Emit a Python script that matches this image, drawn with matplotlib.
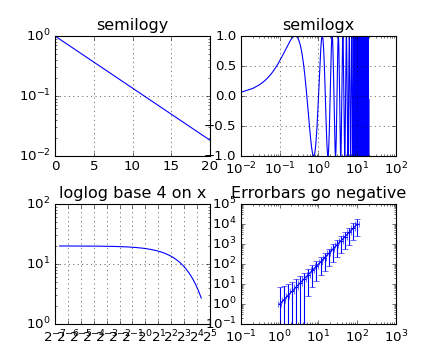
import numpy as np
import matplotlib
matplotlib.use("Agg")
import matplotlib.pyplot as plt

plt.style.use("classic")

# ---- data ----
# sample grid shared by the three curves
t_start, t_stop, t_step = 0.01, 20.0, 0.01
decay_semilogy = 5.0            # exp(-t/5)
sine_frequency = 1.0            # sin(2*pi*f*t)
loglog_amplitude = 20.0         # 20*exp(-t/10)
decay_loglog = 10.0

# errorbar points
err_x = [1.0, 1.27, 1.62, 2.07, 2.64, 3.36, 4.28, 5.46, 6.95, 8.86,
         11.3, 14.4, 18.3, 23.4, 29.8, 37.9, 48.3, 61.6, 78.5, 100.0]
err_y = [1.0, 1.62, 2.64, 4.28, 6.95, 11.3, 18.3, 29.8, 48.3, 78.5,
         127.0, 207.0, 336.0, 546.0, 886.0, 1438.0, 2336.0, 3793.0, 6158.0, 10000.0]
err_xerr = [0.10, 0.127, 0.162, 0.207, 0.264, 0.336, 0.428, 0.546, 0.695, 0.886,
            1.13, 1.44, 1.83, 2.34, 2.98, 3.79, 4.83, 6.16, 7.85, 10.0]
err_yerr = [5.75, 6.22, 6.98, 8.21, 10.2, 13.5, 18.7, 27.4, 41.2, 63.9,
            100.3, 160.3, 257.0, 414.5, 669.5, 1083.5, 1757.0, 2850.0, 4623.5, 7505.0]

titles = ["semilogy", "semilogx", "loglog base 4 on x", "Errorbars go negative"]

t = np.arange(t_start, t_stop, t_step)

fig = plt.figure(figsize=(5.5, 4.5), dpi=80, facecolor="white")
fig.subplots_adjust(left=0.125, right=0.9, bottom=0.1, top=0.9, wspace=0.2, hspace=0.4)

ax1 = fig.add_subplot(221)
ax1.semilogy(t, np.exp(-t / decay_semilogy), color="b")
ax1.set_title(titles[0])
ax1.grid(True)

ax2 = fig.add_subplot(222)
ax2.semilogx(t, np.sin(2 * np.pi * sine_frequency * t), color="b")
ax2.set_title(titles[1])
ax2.grid(True)

ax3 = fig.add_subplot(223)
ax3.loglog(t, loglog_amplitude * np.exp(-t / decay_loglog), color="b")
ax3.set_xscale("log", base=2)
ax3.grid(True)
ax3.set_title(titles[2])

ax4 = fig.add_subplot(224)
ax4.set_xscale("log", nonpositive="clip")
ax4.set_yscale("log", nonpositive="clip")
ax4.errorbar(err_x, err_y, xerr=err_xerr, yerr=err_yerr, color="b")
ax4.set_ylim(bottom=0.1)
ax4.set_title(titles[3])

fig.savefig("out.png", dpi=80, facecolor="white")
